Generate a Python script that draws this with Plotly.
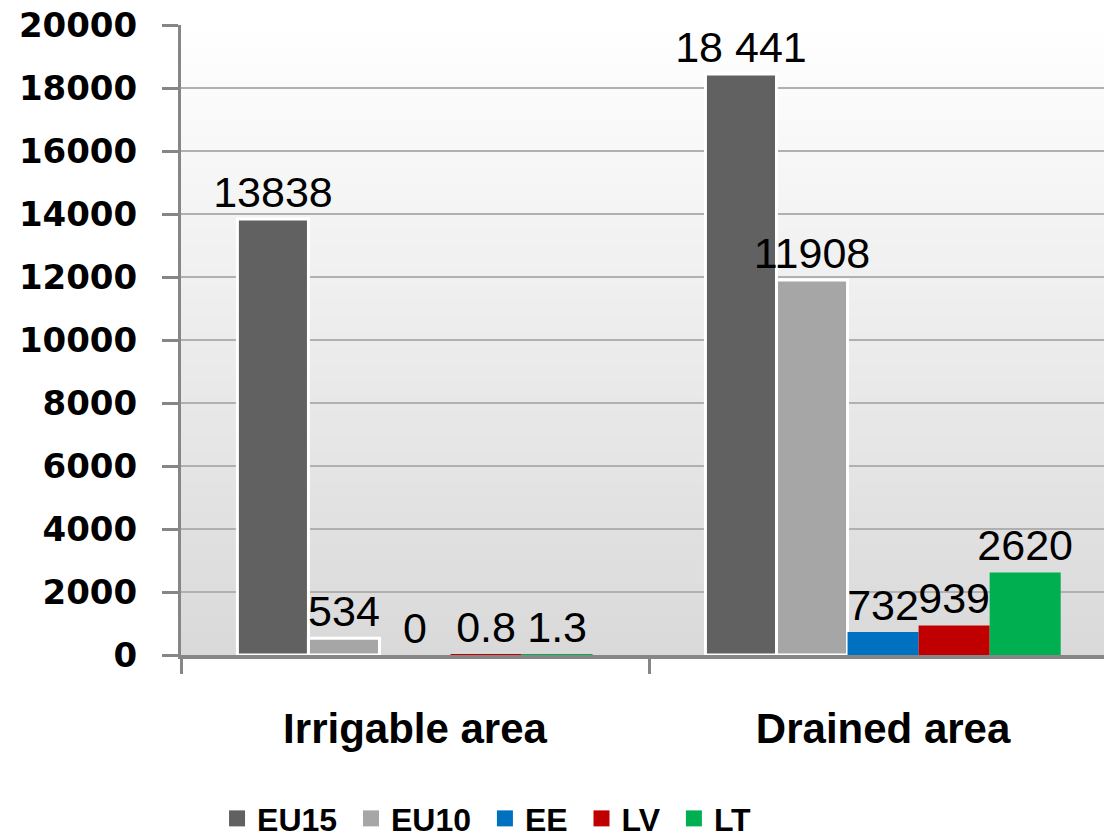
import plotly.graph_objects as go

# ---- data ----
categories = ["Irrigable area", "Drained area"]
series_names = ["EU15", "EU10", "EE", "LV", "LT"]
eu15 = [13838, 18441]
eu10 = [534, 11908]
ee = [0, 732]
lv = [0.8, 939]
lt = [1.3, 2620]
eu15_labels = ["13838", "18 441"]
eu10_labels = ["534", "11908"]
ee_labels = ["0", "732"]
lv_labels = ["0.8", "939"]
lt_labels = ["1.3", "2620"]
y_tickvals = [0, 2000, 4000, 6000, 8000, 10000, 12000, 14000, 16000, 18000, 20000]
y_ticktext = ["0", "2000", "4000", "6000", "8000", "10000", "12000", "14000", "16000", "18000", "20000"]

series_values = [eu15, eu10, ee, lv, lt]
series_labels = [eu15_labels, eu10_labels, ee_labels, lv_labels, lt_labels]
colors = ["#616161", "#a6a6a6", "#0070c0", "#c00000", "#00b050"]
border_w = [3, 3, 0, 0, 0]

fig = go.Figure()
for name, vals, labs, col, bw in zip(series_names, series_values, series_labels, colors, border_w):
    fig.add_trace(go.Bar(
        x=categories, y=vals, name=name, text=labs,
        textposition="outside", constraintext="none", cliponaxis=False,
        textfont=dict(family="Liberation Sans, Arial", size=43, color="black"),
        marker=dict(color=col, line=dict(color="white", width=bw)),
        showlegend=False,
    ))
# legend proxies (bigger square swatches)
for name, col in zip(series_names, colors):
    fig.add_trace(go.Scatter(
        x=[None], y=[None], mode="markers", name=name + "\u00a0",
        marker=dict(symbol="square", size=16, color=col),
        showlegend=True,
    ))

# gradient background of plot area (nested rects from the bottom, no seams)
n = 80
shapes = []
for i in range(n):
    top = (n - i) / n
    t = (n - i - 0.5) / n  # 0 bottom -> 1 top
    g = round(217 + (255 - 217) * t)
    shapes.append(dict(type="rect", xref="paper", yref="paper",
                       x0=0, x1=1, y0=0, y1=top,
                       fillcolor=f"rgb({g},{g},{g})", line=dict(width=0),
                       layer="below"))

fig.update_layout(
    width=1104, height=839,
    margin=dict(l=181, r=0, t=25, b=184, autoexpand=False),
    paper_bgcolor="white", plot_bgcolor="rgba(0,0,0,0)",
    barmode="group", bargap=0.241, bargroupgap=0,
    shapes=shapes,
    showlegend=True,
    legend=dict(orientation="h", xref="container", yref="paper",
                x=0.1966, xanchor="left", y=-0.216, yanchor="top",
                font=dict(family="Liberation Sans, Arial", size=32,
                          color="black", weight="bold"),
                itemsizing="trace", bgcolor="rgba(0,0,0,0)"),
    xaxis=dict(
        type="category", range=[-0.5, 1.472], automargin=False,
        showline=True, linecolor="#868686", linewidth=4,
        ticks="outside", tickson="boundaries", ticklen=15, tickwidth=3, tickcolor="#868686",
        tickfont=dict(family="Liberation Sans, Arial", size=42, color="black", weight="bold"),
        ticklabelstandoff=34,
        showgrid=False,
    ),
    yaxis=dict(
        range=[0, 20000.5], tickvals=y_tickvals, ticktext=y_ticktext, automargin=False,
        showline=True, linecolor="#868686", linewidth=3,
        ticks="outside", ticklen=16, tickwidth=3, tickcolor="#868686",
        tickfont=dict(family="DejaVu Sans", size=34, color="black", weight="bold"),
        ticklabelstandoff=18, ticklabeloverflow="allow",
        showgrid=True, gridcolor="#b0b0b0", gridwidth=1.5,
        zeroline=False,
    ),
)

fig.write_html("out.html", config={"displayModeBar": False},
               post_script="document.body.style.margin='0px';")
